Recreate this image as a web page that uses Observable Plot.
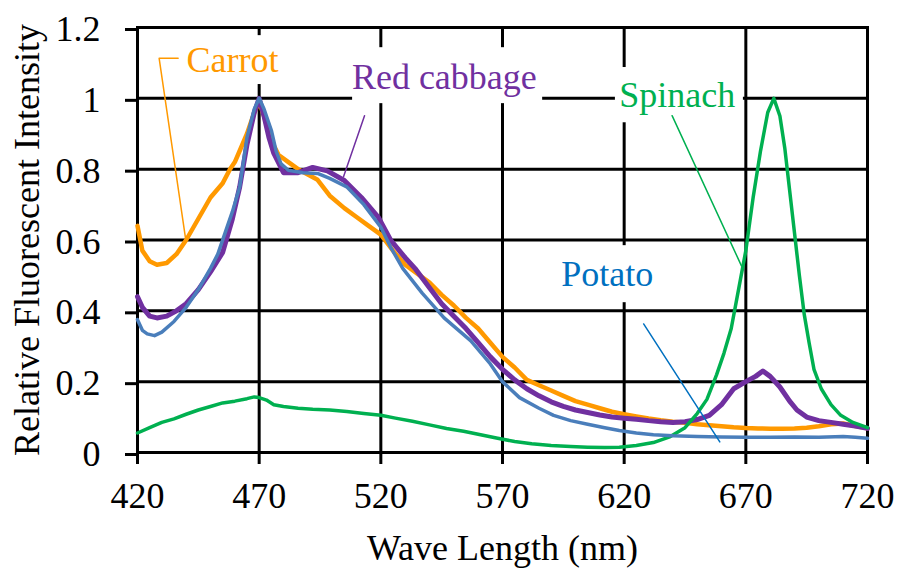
<!DOCTYPE html>
<html>
<head>
<meta charset="utf-8">
<script src="https://cdn.jsdelivr.net/npm/d3@7"></script>
<script src="https://cdn.jsdelivr.net/npm/@observablehq/plot@0.6"></script>
<style>
  html, body { margin: 0; padding: 0; background: white; }
  #chart { width: 899px; height: 568px; }
  html body #chart svg text, html body #chart svg tspan { font-family: "Liberation Serif", serif !important; }
</style>
</head>
<body>
<div id="chart"></div>
<script>
// ---- Data ----
const xTicks = [420, 470, 520, 570, 620, 670, 720];
const yTicks = [0, 0.2, 0.4, 0.6, 0.8, 1.0, 1.2];

const carrotNm  = [420,422,425,428,432,436,440,445,450,455,458,460,465,468,470,472,475,478,482,486,490,494,499,505,510,515,520,525,530,535,540,545,550,555,560,565,570,575,580,585,590,595,600,605,610,615,620,625,630,635,640,645,650,655,660,665,670,675,680,685,690,695,700,705,710,715,720];
const carrotVal = [0.64,0.57,0.54,0.53,0.535,0.56,0.60,0.66,0.72,0.76,0.80,0.82,0.90,0.96,0.99,0.95,0.88,0.84,0.82,0.80,0.785,0.77,0.725,0.69,0.665,0.64,0.615,0.57,0.53,0.505,0.48,0.445,0.415,0.38,0.35,0.31,0.27,0.24,0.205,0.19,0.175,0.16,0.145,0.135,0.125,0.115,0.108,0.102,0.096,0.091,0.087,0.084,0.08,0.077,0.074,0.071,0.069,0.068,0.067,0.067,0.068,0.07,0.074,0.08,0.082,0.075,0.068];

const cabbageNm  = [420,422,425,428,432,436,440,445,450,455,459,462,465,468,470,472,474,476,480,486,492,498,505,512,519,524,530,534,540,545,550,555,560,565,570,575,580,585,590,595,600,605,610,615,620,625,630,635,640,645,650,655,660,665,670,674,677,680,684,688,691,695,700,705,710,715,720];
const cabbageVal = [0.44,0.41,0.385,0.38,0.385,0.40,0.42,0.46,0.51,0.565,0.66,0.75,0.87,0.96,1.0,0.95,0.89,0.845,0.79,0.79,0.805,0.795,0.768,0.72,0.664,0.60,0.55,0.52,0.465,0.42,0.385,0.35,0.31,0.27,0.235,0.205,0.18,0.16,0.143,0.13,0.12,0.113,0.106,0.10,0.097,0.094,0.09,0.087,0.085,0.087,0.093,0.105,0.135,0.18,0.20,0.215,0.23,0.215,0.185,0.145,0.12,0.10,0.09,0.085,0.08,0.075,0.068];

const potatoNm  = [420,422,424,427,430,435,440,445,450,453,456,459,462,465,468,470,472,475,477,479,482,488,494,499,506,513,520,524,529,537,546,557,565,570,577,585,591,598,605,612,618,625,632,640,650,660,670,680,690,700,710,715,720];
const potatoVal = [0.375,0.345,0.335,0.33,0.34,0.37,0.41,0.46,0.52,0.56,0.62,0.68,0.75,0.89,0.97,1.0,0.97,0.91,0.85,0.815,0.797,0.79,0.788,0.774,0.75,0.70,0.636,0.58,0.52,0.45,0.38,0.315,0.25,0.20,0.155,0.125,0.105,0.09,0.08,0.07,0.062,0.055,0.05,0.047,0.045,0.044,0.043,0.043,0.044,0.043,0.045,0.043,0.04];

const spinachNm  = [420,425,430,435,440,445,450,455,460,465,468,470,473,476,480,486,492,499,506,513,520,526,533,540,547,554,561,568,575,582,590,598,605,612,618,625,632,639,645,650,654,658,661,664,667,670,673,676,679,681.5,684,686,688,690,692,694,696,698,701,705,709,714,720];
const spinachVal = [0.055,0.07,0.085,0.095,0.108,0.12,0.13,0.14,0.145,0.152,0.157,0.155,0.148,0.135,0.13,0.125,0.122,0.12,0.116,0.11,0.105,0.097,0.088,0.078,0.068,0.06,0.05,0.04,0.031,0.025,0.02,0.017,0.015,0.014,0.015,0.02,0.028,0.045,0.07,0.11,0.15,0.22,0.28,0.35,0.46,0.57,0.72,0.85,0.96,1.0,0.95,0.86,0.74,0.62,0.50,0.39,0.31,0.235,0.18,0.135,0.105,0.085,0.07];

// annotation labels
const labelNames  = ["Carrot", "Red cabbage", "Spinach", "Potato"];
const labelX      = [459.0, 546.1, 641.8, 613.0];
const labelY      = [1.107, 1.059, 1.009, 0.502];
const labelColors = ["#FF9900", "#7030A0", "#00B050", "#0070C0"];
// white label boxes
const boxX1 = [436.8, 508.4, 616.4, 587.7];
const boxX2 = [482.9, 586.5, 669.0, 638.2];
const boxY1 = [1.039, 0.985, 0.931, 0.423];
const boxY2 = [1.177, 1.143, 1.087, 0.584];
// leader lines (polyline points per label)
const leaderNm  = [[436.7, 428.9, 439.7], [513.3, 504.7], [639.7, 668.2], [628.0, 659.3]];
const leaderVal = [[1.113, 1.113, 0.607], [0.951, 0.779], [0.951, 0.527], [0.363, 0.030]];

const seriesColors = { carrot: "#FF9900", cabbage: "#7030A0", spinach: "#00B050", potato: "#4A7EBB" };

// ---- Build tables ----
const toRows = (nm, val) => nm.map((d, i) => ({ nm: d, v: val[i] }));
const carrot = toRows(carrotNm, carrotVal);
const cabbage = toRows(cabbageNm, cabbageVal);
const potato = toRows(potatoNm, potatoVal);
const spinach = toRows(spinachNm, spinachVal);
const labels = labelNames.map((t, i) => ({ t, x: labelX[i], y: labelY[i], c: labelColors[i] }));
const boxes = labelNames.map((t, i) => ({ x1: boxX1[i], x2: boxX2[i], y1: boxY1[i], y2: boxY2[i] }));
const leaders = leaderNm.flatMap((arr, k) => arr.map((d, j) => ({ k, nm: d, v: leaderVal[k][j], c: labelColors[k] })));

const FONT = "Liberation Serif";

const chart = Plot.plot({
  width: 899,
  height: 568,
  marginLeft: 137,
  marginRight: 32,
  marginTop: 27,
  marginBottom: 116,
  style: { background: "white", color: "black", overflow: "visible" },
  x: { domain: [420, 720] },
  y: { domain: [0, 1.2] },
  marks: [
    Plot.gridX(xTicks, { stroke: "black", strokeOpacity: 1, strokeWidth: 3 }),
    Plot.gridY(yTicks, { stroke: "black", strokeOpacity: 1, strokeWidth: 3 }),
    Plot.frame({ stroke: "black", strokeWidth: 3 }),
    Plot.axisX(xTicks, {
      tickSize: 12, tickPadding: 18, strokeWidth: 3, fontSize: 36,
      tickFormat: d => String(d),
      label: "Wave Length (nm)", labelAnchor: "center", labelOffset: 107, labelArrow: "none"
    }),
    Plot.axisY(yTicks, {
      tickSize: 12, tickPadding: 25, strokeWidth: 3, fontSize: 36, dy: 2,
      tickFormat: d => String(+d.toFixed(1)),
      label: "Relative Fluorescent Intensity", labelAnchor: "center", labelOffset: 124, labelArrow: "none"
    }),
    Plot.rect(boxes, { x1: "x1", x2: "x2", y1: "y1", y2: "y2", fill: "white" }),
    Plot.line(carrot, { x: "nm", y: "v", stroke: seriesColors.carrot, strokeWidth: 4.5 }),
    Plot.line(cabbage, { x: "nm", y: "v", stroke: seriesColors.cabbage, strokeWidth: 5 }),
    Plot.line(spinach, { x: "nm", y: "v", stroke: seriesColors.spinach, strokeWidth: 3.5 }),
    Plot.line(potato, { x: "nm", y: "v", stroke: seriesColors.potato, strokeWidth: 3.5 }),
    Plot.line(leaders, { x: "nm", y: "v", z: "k", stroke: "c", strokeWidth: 1.5, curve: "linear" }),
    Plot.text(labels, { x: "x", y: "y", text: "t", fill: "c", fontSize: 36, textAnchor: "middle" })
  ]
});
// force the serif face on the SVG and on every text node
function forceFont(svg) {
  svg.setAttribute("font-family", FONT);
  svg.style.setProperty("font-family", FONT, "important");
  svg.querySelectorAll("[font-family]").forEach(el => el.setAttribute("font-family", FONT));
  svg.querySelectorAll("text, tspan").forEach(el => {
    el.setAttribute("font-family", FONT);
    el.style.setProperty("font-family", FONT, "important");
    el.removeAttribute("font-variant");
  });
}
const inner = document.createElementNS("http://www.w3.org/2000/svg", "style");
inner.textContent = "text, tspan { font-family: 'Liberation Serif' !important; }";
chart.insertBefore(inner, chart.firstChild);
forceFont(chart);
document.getElementById("chart").appendChild(chart);
requestAnimationFrame(() => forceFont(chart));
setTimeout(() => forceFont(chart), 50);
</script>
</body>
</html>
